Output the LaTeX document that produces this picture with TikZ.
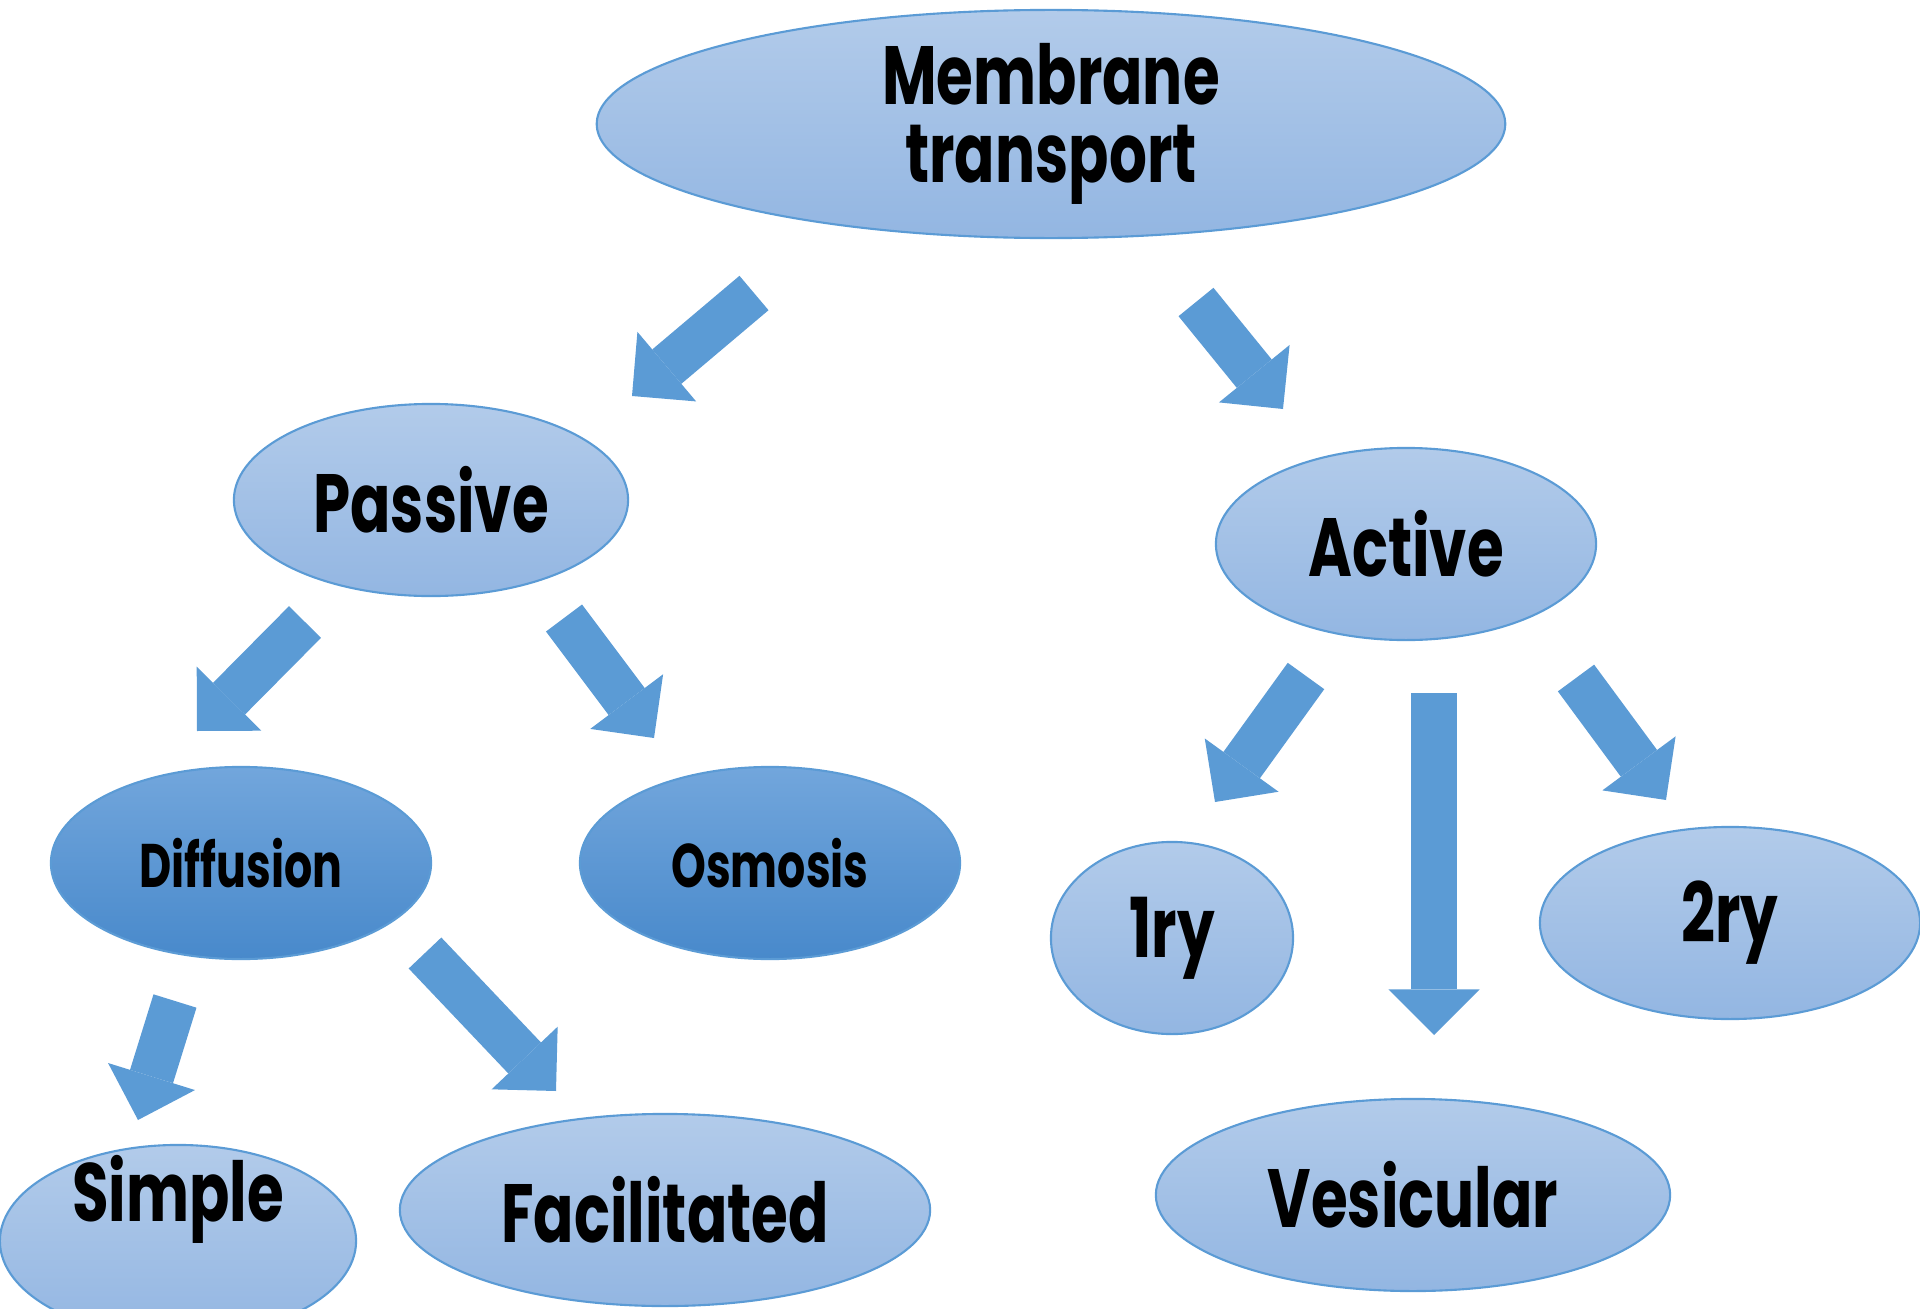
\documentclass[tikz,border=0pt]{standalone}
\usepackage{fontspec}
\newfontfamily\lblfont{Poppins}[FakeStretch=0.72]
\usetikzlibrary{arrows.meta,shapes.geometric}

\definecolor{paleTop}{HTML}{B2CBEA}
\definecolor{paleBot}{HTML}{93B6E2}
\definecolor{deepTop}{HTML}{72A6DC}
\definecolor{deepBot}{HTML}{4889CB}
\definecolor{edgeblue}{HTML}{5B9BD5}
\definecolor{arrowblue}{HTML}{5B9BD5}

\begin{document}
\begin{tikzpicture}[x=0.01cm,y=-0.01cm,
  bubble/.style={ellipse,draw=edgeblue,line width=0.6pt,inner sep=0pt,top color=paleTop,bottom color=paleBot,align=center,minimum height=1.92cm,font=\lblfont\bfseries\fontsize{23.5}{22}\selectfont},
  deep/.style={bubble,top color=deepTop,bottom color=deepBot,font=\lblfont\bfseries\fontsize{17.5}{20}\selectfont},
  arr/.style={line width=0.45cm,color=arrowblue,-{Triangle[length=0.455cm,width=0.91cm,line width=0pt]}}
]
\useasboundingbox (0,0) rectangle (1920,1309);

% top
\node[bubble,minimum width=9.08cm,minimum height=2.28cm] (mem) at (1051,124) {Membrane\\transport};

% second row
\node[bubble,minimum width=3.94cm] (pas) at (431,500) {Passive};
\node[bubble,minimum width=3.80cm] (act) at (1406,544) {Active};

% third row
\node[deep,minimum width=3.80cm] (dif) at (241,863) {Diffusion};
\node[deep,minimum width=3.80cm] (osm) at (770,863) {Osmosis};
\node[bubble,minimum width=2.42cm] (pri) at (1172,938) {1ry};
\node[bubble,minimum width=3.80cm] (sec) at (1730,923) {2ry};

% bottom row
\node[bubble,minimum width=3.56cm] (simp) at (178,1241) {\raisebox{0.19cm}[0pt][0pt]{Simple}};
\node[bubble,minimum width=5.30cm] (fac) at (665,1210) {Facilitated};
\node[bubble,minimum width=5.14cm] (ves) at (1413,1195) {Vesicular};

% block arrows (tail -- tip)
\coordinate (memA) at (754,293);   \coordinate (memB) at (632,396);
\coordinate (memC) at (1196,302);  \coordinate (memD) at (1283,409);
\coordinate (pasA) at (305,622);   \coordinate (pasB) at (197,731);
\coordinate (pasC) at (564,618);   \coordinate (pasD) at (654,738);
\coordinate (actA) at (1306,676);  \coordinate (actB) at (1215,802);
\coordinate (actC) at (1434,693);  \coordinate (actD) at (1434,1035);
\coordinate (actE) at (1576,678);  \coordinate (actF) at (1666,800);
\coordinate (difA) at (175,1001);  \coordinate (difB) at (138,1120);
\coordinate (difC) at (425,953);   \coordinate (difD) at (556,1091);

\draw[arr] (memA) -- (memB);
\draw[arr] (memC) -- (memD);
\draw[arr] (pasA) -- (pasB);
\draw[arr] (pasC) -- (pasD);
\draw[arr] (actA) -- (actB);
\draw[arr] (actC) -- (actD);
\draw[arr] (actE) -- (actF);
\draw[arr] (difA) -- (difB);
\draw[arr] (difC) -- (difD);
\end{tikzpicture}
\end{document}
